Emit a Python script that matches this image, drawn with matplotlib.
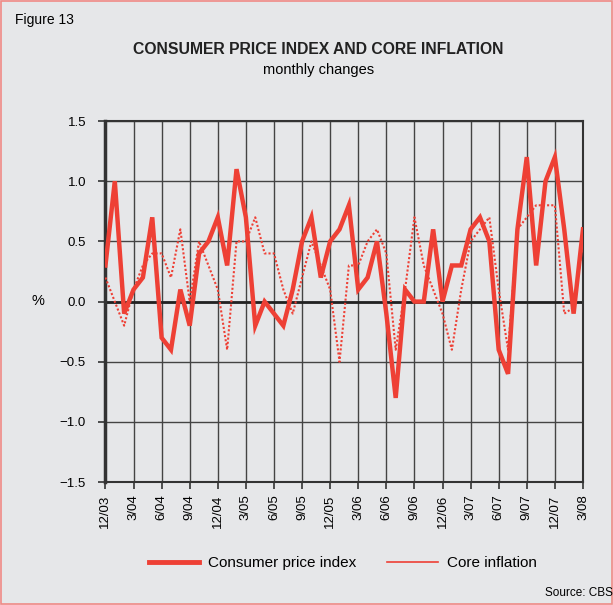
import matplotlib.pyplot as plt
from matplotlib.lines import Line2D
from matplotlib.patches import Rectangle

plt.rcParams['font.family'] = ['Liberation Sans', 'DejaVu Sans']

# monthly changes, 12/03 .. 3/08
cpi = [0.3, 1.0, -0.1, 0.1, 0.2, 0.7, -0.3, -0.4, 0.1, -0.2,
       0.4, 0.5, 0.7, 0.3, 1.1, 0.7, -0.2, 0.0, -0.1, -0.2,
       0.1, 0.5, 0.7, 0.2, 0.5, 0.6, 0.8, 0.1, 0.2, 0.5,
       -0.1, -0.8, 0.1, 0.0, 0.0, 0.6, 0.0, 0.3, 0.3, 0.6,
       0.7, 0.5, -0.4, -0.6, 0.6, 1.2, 0.3, 1.0, 1.2, 0.6,
       -0.1, 0.6]
core = [0.2, 0.0, -0.2, 0.1, 0.3, 0.4, 0.4, 0.2, 0.6, 0.0,
        0.5, 0.3, 0.1, -0.4, 0.5, 0.5, 0.7, 0.4, 0.4, 0.1,
        -0.1, 0.2, 0.5, 0.3, 0.1, -0.5, 0.3, 0.3, 0.5, 0.6,
        0.4, -0.4, 0.1, 0.7, 0.3, 0.1, -0.1, -0.4, 0.1, 0.5,
        0.6, 0.7, 0.1, -0.4, 0.6, 0.7, 0.8, 0.8, 0.8, -0.1,
        -0.05, 0.5]
tick_labels = ['12/03', '3/04', '6/04', '9/04', '12/04', '3/05', '6/05', '9/05',
               '12/05', '3/06', '6/06', '9/06', '12/06', '3/07', '6/07', '9/07',
               '12/07', '3/08']

red = '#EE4035'
bg = '#E6E7E9'
x = list(range(len(cpi)))

fig = plt.figure(figsize=(6.13, 6.05), dpi=100, facecolor=bg)
fig.patches.append(Rectangle((0.001, 0.001), 0.998, 0.998, transform=fig.transFigure,
                             fill=False, edgecolor='#F08A86', linewidth=1.2))
ax = fig.add_axes([0.172, 0.203, 0.779, 0.597])
ax.set_facecolor(bg)

ax.plot(x, core, color=red, lw=1.5, ls=(0, (1, 1.0)), zorder=3)
ax.plot(x, cpi, color=red, lw=3.2, zorder=4, solid_joinstyle='miter')

ax.set_xlim(0, len(cpi) - 1)
ax.set_ylim(-1.5, 1.5)
ax.set_xticks(x[::3])
ax.set_xticklabels(tick_labels, rotation=90, fontsize=9.5)
yt = [-1.5, -1.0, -0.5, 0.0, 0.5, 1.0, 1.5]
ax.set_yticks(yt)
ax.set_yticklabels([f'{v:.1f}'.replace('-', '\u2212') for v in yt], fontsize=9.5)
ax.tick_params(axis='both', direction='out', length=5, width=1.2, color='#333333', pad=4)
ax.tick_params(axis='y', pad=9)
ax.grid(True, color='#444444', lw=1.0)
ax.axhline(0, color='#222222', lw=2.0, zorder=2)
for s in ax.spines.values():
    s.set_color('#333333')
    s.set_linewidth(1.5)
ax.spines['left'].set_linewidth(2.5)

fig.text(0.024, 0.967, 'Figure 13', fontsize=10, va='center')
fig.text(0.519, 0.918, 'CONSUMER PRICE INDEX AND CORE INFLATION', fontsize=11.3,
         fontweight='bold', ha='center', va='center', color='#222222')
fig.text(0.519, 0.885, 'monthly changes', fontsize=10.5, ha='center', va='center')
fig.text(0.062, 0.503, '%', fontsize=10.5, ha='center', va='center')
fig.text(1.0, 0.01, 'Source: CBS', fontsize=8.5, ha='right', va='bottom')

handles = [Line2D([], [], color=red, lw=3.5),
           Line2D([], [], color=red, lw=1.2)]
fig.legend(handles, ['Consumer price index', 'Core inflation'], loc='center',
           bbox_to_anchor=(0.559, 0.069), ncol=2, frameon=False, fontsize=11,
           handlelength=3.3, columnspacing=2.0, handletextpad=0.6)

fig.savefig('out.png', dpi=100, facecolor=bg)
